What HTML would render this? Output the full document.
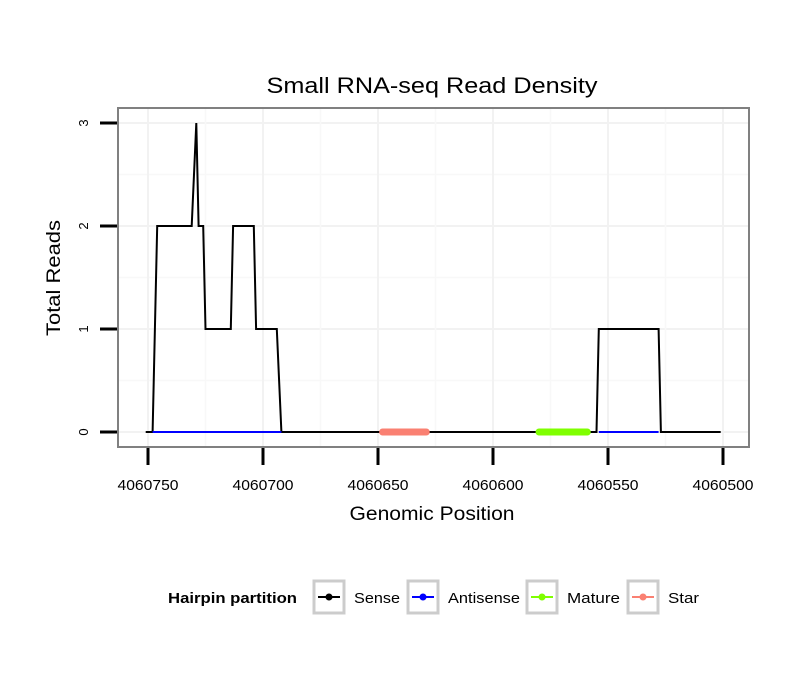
<!DOCTYPE html>
<html><head><meta charset="utf-8"><style>
body{margin:0;background:#fff;font-family:"Liberation Sans",sans-serif}
</style></head><body>
<svg width="810" height="690" xmlns="http://www.w3.org/2000/svg" font-family="Liberation Sans, sans-serif">
<rect width="810" height="690" fill="#fff"/>
<text x="432" y="93" text-anchor="middle" font-size="22" textLength="331" lengthAdjust="spacingAndGlyphs">Small RNA-seq Read Density</text>
<g id="grid"></g>
<g id="marks"></g>
<rect x="118" y="108" width="631" height="339" fill="none" stroke="#808080" stroke-width="2"/>
<g id="axes"></g>
<text x="432" y="520" text-anchor="middle" font-size="19" textLength="165" lengthAdjust="spacingAndGlyphs">Genomic Position</text>
<text transform="translate(60,278) rotate(-90)" text-anchor="middle" font-size="19" textLength="116" lengthAdjust="spacingAndGlyphs">Total Reads</text>
<g font-size="15">
<text x="168" y="603" font-weight="bold" textLength="129" lengthAdjust="spacingAndGlyphs">Hairpin partition</text>
<g><rect x="314" y="581" width="30" height="32" fill="none" stroke="#ccc" stroke-width="3"/><line x1="318" y1="597" x2="340" y2="597" stroke="#000" stroke-width="2"/><circle cx="329" cy="597" r="3.5" fill="#000"/><text x="354" y="603" textLength="46" lengthAdjust="spacingAndGlyphs">Sense</text></g>
<g><rect x="408" y="581" width="30" height="32" fill="none" stroke="#ccc" stroke-width="3"/><line x1="412" y1="597" x2="434" y2="597" stroke="#00f" stroke-width="2"/><circle cx="423" cy="597" r="3.5" fill="#00f"/><text x="448" y="603" textLength="72" lengthAdjust="spacingAndGlyphs">Antisense</text></g>
<g><rect x="527" y="581" width="30" height="32" fill="none" stroke="#ccc" stroke-width="3"/><line x1="531" y1="597" x2="553" y2="597" stroke="#7fff00" stroke-width="2"/><circle cx="542" cy="597" r="3.5" fill="#7fff00"/><text x="567" y="603" textLength="53" lengthAdjust="spacingAndGlyphs">Mature</text></g>
<g><rect x="628" y="581" width="30" height="32" fill="none" stroke="#ccc" stroke-width="3"/><line x1="632" y1="597" x2="654" y2="597" stroke="#fa8072" stroke-width="2"/><circle cx="643" cy="597" r="3.5" fill="#fa8072"/><text x="668" y="603" textLength="31" lengthAdjust="spacingAndGlyphs">Star</text></g>
</g>
</svg>
<script>
const positions=[4060751,4060748,4060747,4060746,4060731,4060729,4060728,4060726,4060725,4060714,4060713,4060704,4060703,4060694,4060692,4060555,4060554,4060528,4060527,4060501];
const reads=[0,0,1,2,2,3,2,2,1,1,2,2,1,1,0,0,1,1,0,0];
const antisenseStart=[4060748,4060554];
const antisenseEnd=[4060692,4060528];
const matureRange=[4060580,4060559];
const starRange=[4060648,4060629];
const xTicks=[4060750,4060700,4060650,4060600,4060550,4060500];
const yTicks=[0,1,2,3];
const NS="http://www.w3.org/2000/svg";
function x(v){return 148+(4060750-v)*2.3;}
function y(v){return 432-v*103;}
function mk(p,tag,a){const e=document.createElementNS(NS,tag);for(const k in a)e.setAttribute(k,a[k]);p.appendChild(e);return e;}
const grid=document.getElementById('grid'),marks=document.getElementById('marks'),axes=document.getElementById('axes');
for(let i=0;i<yTicks.length;i++){const g=mk(grid,'line',{x1:118,x2:749,y1:y(yTicks[i]),y2:y(yTicks[i]),stroke:'#f2f2f2','stroke-width':2});


if(i<yTicks.length-1){const m=mk(grid,'line',{x1:118,x2:749,y1:y(yTicks[i]+0.5),y2:y(yTicks[i]+0.5),stroke:'#f8f8f8','stroke-width':1.5});

}
const t=mk(axes,'line',{x1:100,x2:117,y1:y(yTicks[i]),y2:y(yTicks[i]),stroke:'#000','stroke-width':3});


const l=mk(axes,'text',{transform:`translate(88,${y(yTicks[i])}) rotate(-90)`,'text-anchor':'middle','font-size':13});


l.textContent=yTicks[i];}
for(let i=0;i<xTicks.length;i++){const g=mk(grid,'line',{y1:108,y2:447,x1:x(xTicks[i]),x2:x(xTicks[i]),stroke:'#f2f2f2','stroke-width':2});


if(i<xTicks.length-1){const m=mk(grid,'line',{y1:108,y2:447,x1:x(xTicks[i]-25),x2:x(xTicks[i]-25),stroke:'#f8f8f8','stroke-width':1.5});

}
const t=mk(axes,'line',{x1:x(xTicks[i]),x2:x(xTicks[i]),y1:448,y2:465,stroke:'#000','stroke-width':3});


const l=mk(axes,'text',{x:x(xTicks[i]),y:490,'text-anchor':'middle','font-size':15,textLength:61,lengthAdjust:'spacingAndGlyphs'});


l.textContent=xTicks[i];}
const sense=mk(marks,'polyline',{points:positions.map((p,i)=>x(p)+','+y(reads[i])).join(' '),fill:'none',stroke:'#000','stroke-width':2});


for(let i=0;i<antisenseStart.length;i++){const a=mk(marks,'line',{x1:x(antisenseStart[i]),x2:x(antisenseEnd[i]),y1:y(0),y2:y(0),stroke:'#00f','stroke-width':2});

}
const mat=mk(marks,'line',{x1:x(matureRange[0]),x2:x(matureRange[1]),y1:y(0),y2:y(0),stroke:'#7fff00','stroke-width':7,'stroke-linecap':'round'});


const st=mk(marks,'line',{x1:x(starRange[0]),x2:x(starRange[1]),y1:y(0),y2:y(0),stroke:'#fa8072','stroke-width':7,'stroke-linecap':'round'});


</script>
</body></html>
